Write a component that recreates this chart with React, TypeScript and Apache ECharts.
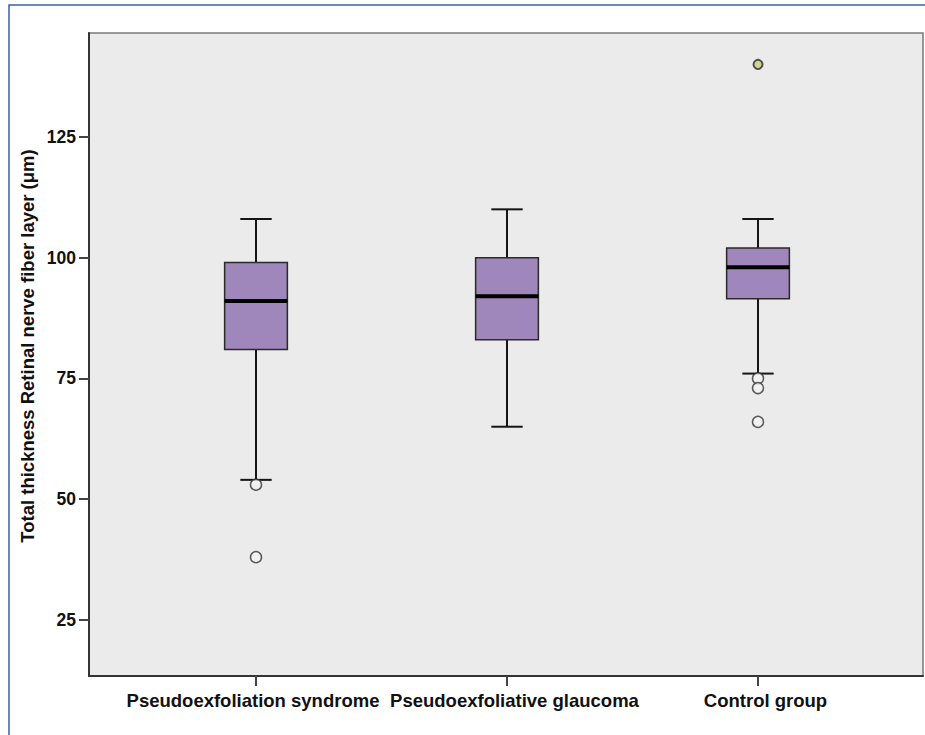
import React, { useEffect, useRef } from "react";
import * as echarts from "echarts";

const categories = ["Pseudoexfoliation syndrome", "Pseudoexfoliative glaucoma", "Control group"];
const whiskerLow = [54, 65, 76];
const q1 = [81, 83, 91.5];
const median = [91, 92, 98];
const q3 = [99, 100, 102];
const whiskerHigh = [108, 110, 108];
const outliers: [number, number][] = [
  [0, 53],
  [0, 38],
  [2, 75],
  [2, 73],
  [2, 66],
];
const extremes: [number, number][] = [[2, 140]];
const yTicks = [25, 50, 75, 100, 125];
const yMin = 13.4;
const yMax = 146.5;
const yTitle = "Total thickness Retinal nerve fiber layer (\u03bcm)";

const FONT = '"Liberation Sans", Arial, Helvetica, sans-serif';

export default function App() {
  const ref = useRef<HTMLDivElement>(null);
  useEffect(() => {
    if (!ref.current) return;
    const chart = echarts.init(ref.current, undefined, { renderer: "svg" });
    const boxData = categories.map((_, i) => [i, whiskerLow[i], q1[i], median[i], q3[i], whiskerHigh[i]]);
    const labelBase = { fontSize: 18.5, fontWeight: "bold", color: "#111", fontFamily: FONT };
    const option: any = {
      animation: false,
      backgroundColor: "#ffffff",
      textStyle: { fontFamily: FONT },
      grid: [
        {
          left: 89,
          top: 33,
          right: 2,
          bottom: 59,
          show: true,
          backgroundColor: "#ebebeb",
          borderColor: "#7a7a7a",
          borderWidth: 1.5,
        },
        { left: 130.5, right: 41.5, top: 33, bottom: 59 },
      ],
      xAxis: [
        {
          type: "value",
          gridIndex: 0,
          min: 0,
          max: 1,
          axisLine: { show: true, onZero: false, lineStyle: { color: "#333", width: 2 } },
          axisTick: { show: false },
          axisLabel: { show: false },
          splitLine: { show: false },
        },
        {
          type: "category",
          gridIndex: 1,
          data: categories,
          axisLine: { show: false },
          axisTick: { show: true, alignWithLabel: true, length: 10, lineStyle: { color: "#444", width: 2 } },
          axisLabel: {
            margin: 15,
            ...labelBase,
            interval: 0,
            formatter: (v: string, i: number) => `{l${i}|${v}}`,
            rich: {
              l0: { ...labelBase, padding: [0, 6, 0, 0] },
              l1: { ...labelBase, padding: [0, 0, 0, 15] },
              l2: { ...labelBase, padding: [0, 0, 0, 15] },
            },
          },
          splitLine: { show: false },
        },
      ],
      yAxis: [
        {
          type: "value",
          gridIndex: 0,
          min: yMin,
          max: yMax,
          axisLine: { show: true, onZero: false, lineStyle: { color: "#333", width: 2 } },
          axisTick: { show: true, length: 10, customValues: yTicks, lineStyle: { color: "#444", width: 2 } },
          axisLabel: {
            customValues: yTicks,
            margin: 13,
            fontSize: 17.5,
            fontWeight: "bold",
            color: "#111",
            fontFamily: FONT,
          },
          splitLine: { show: false },
        },
        { type: "value", gridIndex: 1, min: yMin, max: yMax, show: false },
      ],
      graphic: [
        {
          type: "rect",
          z: -10,
          shape: { x: 9, y: 5, width: 960, height: 780 },
          style: { fill: "none", stroke: "#3c5ea8", lineWidth: 1.5 },
          silent: true,
        },
        {
          type: "text",
          x: 27,
          y: 346,
          rotation: Math.PI / 2,
          style: {
            text: yTitle,
            font: `bold 18.5px ${FONT}`,
            fill: "#111",
            align: "center",
            verticalAlign: "middle",
          },
          silent: true,
        },
      ],
      series: [
        {
          type: "custom",
          xAxisIndex: 1,
          yAxisIndex: 1,
          data: boxData,
          renderItem: (params: any, api: any) => {
            const x = api.value(0);
            const lo = api.coord([x, api.value(1)]);
            const b1 = api.coord([x, api.value(2)]);
            const md = api.coord([x, api.value(3)]);
            const b3 = api.coord([x, api.value(4)]);
            const hi = api.coord([x, api.value(5)]);
            const bw = api.size([1, 0])[0] * 0.25;
            const cw = bw / 2;
            const cx = lo[0];
            const wStyle = { stroke: "#151515", lineWidth: 2 };
            return {
              type: "group",
              children: [
                { type: "line", shape: { x1: cx, y1: lo[1], x2: cx, y2: b1[1] }, style: wStyle },
                { type: "line", shape: { x1: cx, y1: b3[1], x2: cx, y2: hi[1] }, style: wStyle },
                { type: "line", shape: { x1: cx - cw / 2, y1: lo[1], x2: cx + cw / 2, y2: lo[1] }, style: wStyle },
                { type: "line", shape: { x1: cx - cw / 2, y1: hi[1], x2: cx + cw / 2, y2: hi[1] }, style: wStyle },
                {
                  type: "rect",
                  shape: { x: cx - bw / 2, y: b3[1], width: bw, height: b1[1] - b3[1] },
                  style: { fill: "#9f87bb", stroke: "#2a2a2a", lineWidth: 1.5 },
                },
                {
                  type: "line",
                  shape: { x1: cx - bw / 2, y1: md[1], x2: cx + bw / 2, y2: md[1] },
                  style: { stroke: "#000", lineWidth: 4 },
                },
              ],
            };
          },
        },
        {
          type: "scatter",
          xAxisIndex: 1,
          yAxisIndex: 1,
          data: outliers,
          symbol: "circle",
          symbolSize: 11,
          itemStyle: { color: "#f2f2f2", borderColor: "#333", borderWidth: 1.5 },
          z: 5,
        },
        {
          type: "scatter",
          xAxisIndex: 1,
          yAxisIndex: 1,
          data: extremes,
          symbol: "circle",
          symbolSize: 9,
          itemStyle: { color: "#c9cf7a", borderColor: "#2a2a2a", borderWidth: 2 },
          z: 5,
        },
      ],
    };
    chart.setOption(option);
    return () => chart.dispose();
  }, []);
  return (
    <div
      ref={ref}
      style={{ position: "fixed", left: 0, top: 0, width: 925, height: 735 }}
    />
  );
}
